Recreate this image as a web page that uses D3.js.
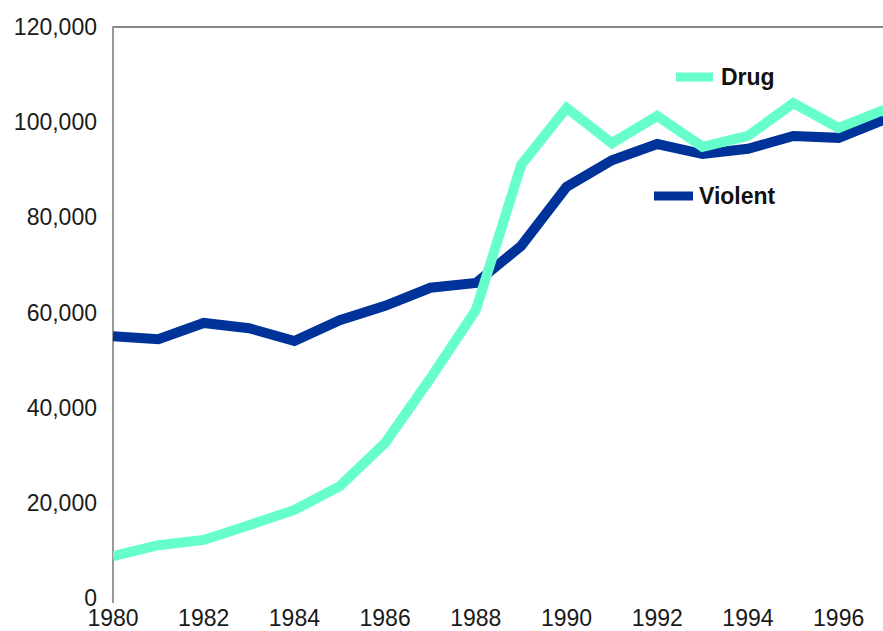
<!DOCTYPE html>
<html>
<head>
<meta charset="utf-8">
<script src="https://cdn.jsdelivr.net/npm/d3@7"></script>
<style>
  html, body { margin: 0; padding: 0; background: #fff; }
  svg { display: block; }
  text { font-family: "Liberation Sans", Arial, sans-serif; }
</style>
</head>
<body>
<svg id="chart" width="883" height="631"></svg>
<script>
const years = [1980,1981,1982,1983,1984,1985,1986,1987,1988,1989,1990,1991,1992,1993,1994,1995,1996,1997];
const drug = [8800,11100,12200,15300,18500,23500,32600,46200,60500,91000,103000,95600,101300,94800,97100,104000,98800,102600];
const violent = [55000,54400,57800,56700,54000,58400,61400,65200,66200,74000,86400,92000,95400,93300,94400,97100,96700,100500];
const yTicks = [0,20000,40000,60000,80000,100000,120000];
const xTicks = [1980,1982,1984,1986,1988,1990,1992,1994,1996];
const seriesNames = ["Drug","Violent"];
const seriesColors = ["#66FFCC","#003399"];

const svg = d3.select("#chart");
const pLeft = 113, pRight = 884, pTop = 27, pBottom = 598;

const x = d3.scaleLinear().domain([1980,1997]).range([pLeft,pRight]);
const y = d3.scaleLinear().domain([0,120000]).range([pBottom,pTop]);

svg.append("defs").append("clipPath").attr("id","clip")
  .append("rect").attr("x",pLeft).attr("y",0).attr("width",883-pLeft).attr("height",631);

// frame lines
svg.append("line").attr("x1",pLeft).attr("x2",883).attr("y1",pTop).attr("y2",pTop)
  .attr("stroke","#888").attr("stroke-width",2);
svg.append("line").attr("x1",pLeft).attr("x2",pLeft).attr("y1",pTop-1).attr("y2",pBottom+5)
  .attr("stroke","#999").attr("stroke-width",2);

// y tick labels
const fmt = d3.format(",");
svg.append("g").selectAll("text").data(yTicks).join("text")
  .attr("x",97).attr("y",d=>y(d)).attr("dy","0.35em")
  .attr("text-anchor","end").attr("font-size",23).attr("fill","#1a1a1a")
  .text(d=>fmt(d));

// x tick labels
svg.append("g").selectAll("text").data(xTicks).join("text")
  .attr("x",d=>x(d)).attr("y",626)
  .attr("text-anchor","middle").attr("font-size",23).attr("fill","#1a1a1a")
  .text(d=>d);

const line = d3.line().x((d,i)=>x(years[i])).y(d=>y(d));

const g = svg.append("g").attr("clip-path","url(#clip)");
g.append("path").datum(violent).attr("d",line).attr("fill","none")
  .attr("stroke",seriesColors[1]).attr("stroke-width",10).attr("stroke-linejoin","miter");
g.append("path").datum(drug).attr("d",line).attr("fill","none")
  .attr("stroke",seriesColors[0]).attr("stroke-width",10).attr("stroke-linejoin","miter");

// legend
const legend = [
  {name: seriesNames[0], color: seriesColors[0], x1: 676, x2: 713, ty: 77, tx: 721},
  {name: seriesNames[1], color: seriesColors[1], x1: 654, x2: 693, ty: 196, tx: 699}
];
legend.forEach(l => {
  svg.append("line").attr("x1",l.x1).attr("x2",l.x2).attr("y1",l.ty).attr("y2",l.ty)
    .attr("stroke",l.color).attr("stroke-width",9);
  svg.append("text").attr("x",l.tx).attr("y",l.ty).attr("dy","0.35em")
    .attr("font-size",23).attr("font-weight","bold").attr("fill","#111").text(l.name);
});
</script>
</body>
</html>
